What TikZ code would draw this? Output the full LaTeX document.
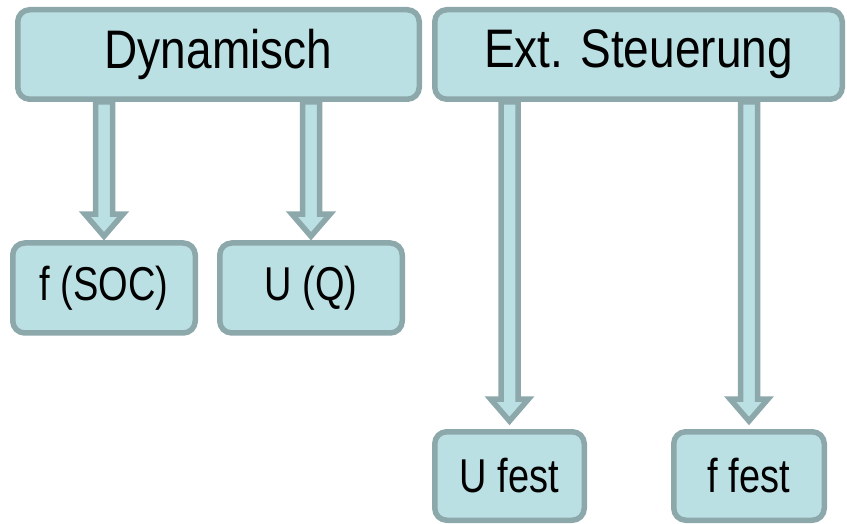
\documentclass[tikz,border=0pt]{standalone}
\usepackage{fontspec}
\setmainfont{Liberation Sans}
\usetikzlibrary{calc,backgrounds}
\definecolor{fuell}{RGB}{187,224,228}
\definecolor{rand}{RGB}{141,168,170}
\newcommand{\hoch}[2]{\scalebox{1}[#1]{#2}}
\newcommand{\blockarrow}[2]{%
  \draw[pfeil] let \p1=#1, \p2=#2 in
    (\x1-8.5pt,\y1) -- (\x1-8.5pt,\y2+22pt) -- (\x1-19pt,\y2+22pt) -- (\x1,\y2)
    -- (\x1+19pt,\y2+22pt) -- (\x1+8.5pt,\y2+22pt) -- (\x1+8.5pt,\y1) -- cycle;}
\begin{document}
\begin{tikzpicture}[x=1pt,y=1pt,
    box/.style={draw=rand, fill=fuell, line width=5.5pt, rounded corners=12pt, inner sep=0pt,
                minimum height=90pt, font=\fontsize{38}{42}\selectfont},
    kopf/.style={box, minimum height=89.5pt, font=\fontsize{46}{50}\selectfont},
    pfeil/.style={draw=rand, fill=fuell, line width=5.5pt, line join=miter}]
                \useasboundingbox (0,0) rectangle (847,523);
                % Kopfzeile
                \node[kopf, minimum width=401.5pt] (dyn) at (218.5,468.5) {\hoch{1.18}{Dynamisch}};
                \node[kopf, minimum width=407.5pt] (ext) at (638.5,468.5) {\hoch{1.18}{Ext. Steuerung}};
                % Zielknoten
                \node[box, minimum width=182.5pt] (fsoc) at (104,235) {\hoch{1.25}{f (SOC)}};
                \node[box, minimum width=182.5pt] (uq) at (311,235) {\hoch{1.25}{U (Q)}};
                \node[box, minimum width=149.5pt, minimum height=88.5pt] (ufest) at (509.5,47) {\hoch{1.25}{U fest}};
                \node[box, minimum width=150.5pt, minimum height=88.5pt] (ffest) at (749,47) {\hoch{1.25}{f fest}};
                % Pfeile
                \begin{scope}[on background layer]
                \blockarrow{(dyn.south -| fsoc.north)}{([yshift=4pt]fsoc.north)}
                \blockarrow{(dyn.south -| uq.north)}{([yshift=4pt]uq.north)}
                \blockarrow{(ext.south -| ufest.north)}{([yshift=8pt]ufest.north)}
                \blockarrow{(ext.south -| ffest.north)}{([yshift=8pt]ffest.north)}
                \end{scope}
\end{tikzpicture}
\end{document}
